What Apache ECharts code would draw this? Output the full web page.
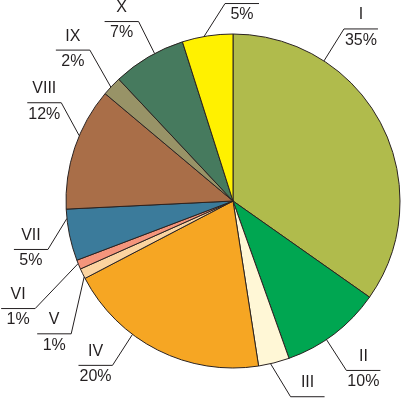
<!DOCTYPE html>
<html>
<head>
<meta charset="utf-8">
<script src="https://cdn.jsdelivr.net/npm/echarts@6/dist/echarts.min.js"></script>
<style>
    html, body { margin: 0; padding: 0; background: #fff; }
    #pie_con { width: 402px; height: 400px; }
</style>
</head>
<body>
<div id="pie_con"></div>
<script>
// slice data, clockwise from 12 o'clock
var names = ['I', 'II', 'III', 'IV', 'V', 'VI', 'VII', 'VIII', 'IX', 'X', '\u00a0'];
var values = [34.8, 9.8, 3.0, 19.8, 1.0, 0.9, 5.0, 11.9, 1.9, 7.1, 4.9];
var percents = ['35%', '10%', '3%', '20%', '1%', '1%', '5%', '12%', '2%', '7%', '5%'];
var colors = ['#b0bb4c', '#00a651', '#fff7d6', '#f6a623', '#fbd4a0', '#f4957c',
    '#3b7b9b', '#a96e48', '#989367', '#467a5e', '#fff100'];

// label leader layout: where the line leaves the rim (deg from top) and its offset
var labelAngle = [33, 146, 167, 217, 243, 248, 264, 293, 313, 332, 350];
var leaderVec = [[20, -32], [20, 31], [20, 33], [-20, 31], [-13, 57], [-43, 45],
    [-19, 31], [-18, -33], [-21, -37], [-16, -32], [21, -33]];

var CX = 233, CY = 201, R = 167, UNDERLINE = 34;

var pieData = values.map(function (v, i) {
    return { value: v, name: names[i], pct: percents[i], itemStyle: { color: colors[i] } };
});

var chart = echarts.init(document.getElementById('pie_con'));
var option = {
    animation: false,
    series: [
        {
            type: 'pie',
            center: [CX, CY],
            radius: R,
            startAngle: 90,
            clockwise: true,
            avoidLabelOverlap: false,
            data: pieData,
            itemStyle: {
                borderColor: '#2a2220',
                borderWidth: 1
            },
            label: {
                show: true,
                position: 'outside',
                formatter: function (p) {
                    return '{n|' + p.name + '}\n{p|' + p.data.pct + '}';
                },
                rich: {
                    n: { fontFamily: 'Liberation Sans', fontSize: 16, color: '#231f20', lineHeight: 28 },
                    p: { fontFamily: 'Liberation Sans', fontSize: 16, color: '#231f20', lineHeight: 23 }
                }
            },
            labelLine: {
                show: true,
                length: 10,
                length2: 10,
                lineStyle: { color: '#231f20', width: 1 }
            },
            labelLayout: function (params) {
                var i = params.dataIndex;
                var a = labelAngle[i] * Math.PI / 180;
                var x0 = CX + R * Math.sin(a);
                var y0 = CY - R * Math.cos(a);
                var x1 = x0 + leaderVec[i][0];
                var y1 = y0 + leaderVec[i][1];
                var side = leaderVec[i][0] > 0 ? 1 : -1;
                var x2 = x1 + side * UNDERLINE;
                return {
                    x: (x1 + x2) / 2,
                    y: y1 - 28,
                    align: 'center',
                    verticalAlign: 'top',
                    labelLinePoints: [[x0, y0], [x1, y1], [x2, y1]]
                };
            },
            emphasis: { disabled: true }
        }
    ]
};
chart.setOption(option);
window.addEventListener('resize', function () {
    chart.resize();
});
</script>
</body>
</html>
